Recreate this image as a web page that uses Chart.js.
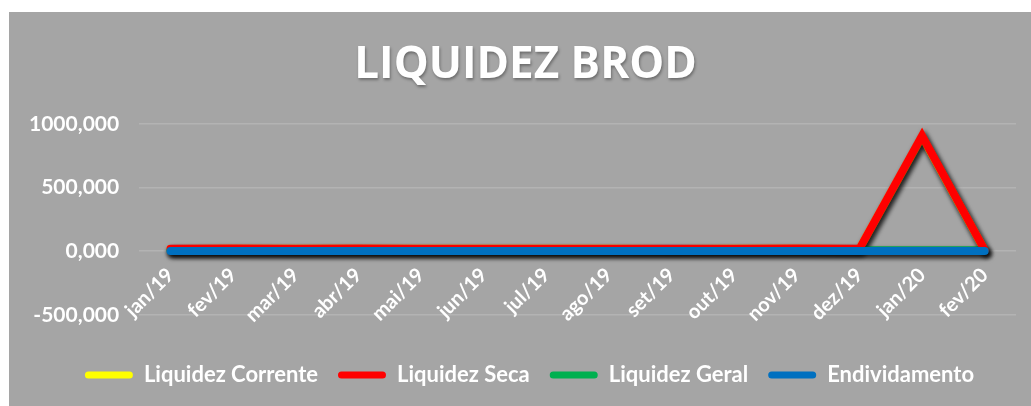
<!DOCTYPE html>
<html>
<head>
<meta charset="utf-8">
<script src="https://cdn.jsdelivr.net/npm/chart.js@4.4.1/dist/chart.umd.min.js"></script>
<style>
  html, body { margin: 0; padding: 0; background: #ffffff; }
  #box {
    position: absolute; left: 9px; top: 12px;
    width: 1022px; height: 394px;
    background: #a5a5a5;
  }
</style>
</head>
<body>
<div id="box"><canvas id="myChart" width="1022" height="394"></canvas></div>
<script>
// meses do grafico
var labels = ['jan/19', 'fev/19', 'mar/19', 'abr/19', 'mai/19', 'jun/19', 'jul/19',
  'ago/19', 'set/19', 'out/19', 'nov/19', 'dez/19', 'jan/20', 'fev/20'];

var liquidezCorrente = [17, 19, 18, 19, 18, 18, 18, 18, 17, 18, 19, 17, 900, 7];
var liquidezSeca     = [18, 20, 19, 20, 19, 19, 19, 19, 18, 19, 20, 18, 905, 8];
var liquidezGeral    = [6, 6, 6, 6, 6, 6, 6, 6, 6, 6, 6, 6, 6, 6];
var endividamento    = [0.5, 0.5, 0.5, 0.5, 0.5, 0.5, 0.5, 0.5, 0.5, 0.5, 0.5, 0.5, 0.5, 0.5];

var yTicks = [-500, 0, 500, 1000];

var fontBase = 'Lato';

// sombra nas linhas
var lineShadow = {
  id: 'lineShadow',
  beforeDatasetsDraw: function(chart) {
    var ctx = chart.ctx;
    ctx.save();
    ctx.shadowColor = 'rgba(0,0,0,0.6)';
    ctx.shadowBlur = 5;
    ctx.shadowOffsetX = 2;
    ctx.shadowOffsetY = 3;
  },
  afterDatasetsDraw: function(chart) {
    chart.ctx.restore();
  }
};

// titulo e legenda um pouco mais a direita (como no excel) + sombra no titulo
var shiftBoxes = {
  id: 'shiftBoxes',
  afterLayout: function(chart) {
    var t = chart.titleBlock;
    if (t) {
      t.left += 13; t.right += 13;
      if (!t._sombra) {
        var orig = t.draw;
        t.draw = function() {
          var ctx = chart.ctx;
          ctx.save();
          ctx.shadowColor = 'rgba(0,0,0,0.35)';
          ctx.shadowBlur = 3;
          ctx.shadowOffsetX = 1;
          ctx.shadowOffsetY = 2;
          orig.apply(this, arguments);
          ctx.restore();
        };
        t._sombra = true;
      }
    }
    if (chart.legend) { chart.legend.left += 17; chart.legend.right += 17; }
  }
};

function serie(label, data, color, order) {
  return {
    label: label,
    data: data,
    borderColor: color,
    backgroundColor: color,
    borderWidth: 8,
    borderCapStyle: 'round',
    pointRadius: 0,
    fill: false,
    tension: 0,
    order: order
  };
}

var config = {
  type: 'line',
  data: {
    labels: labels,
    datasets: [
      serie('Liquidez Corrente', liquidezCorrente, '#ffff00', 3),
      serie('Liquidez Seca', liquidezSeca, '#ff0000', 1),
      serie('Liquidez Geral', liquidezGeral, '#00b050', 2),
      serie('Endividamento', endividamento, '#0070c0', 0)
    ]
  },
  options: {
    responsive: false,
    animation: false,
    layout: { padding: { top: 27, right: 15, bottom: 10, left: 0 } },
    plugins: {
      title: {
        display: true,
        text: 'LIQUIDEZ BROD',
        color: '#ffffff',
        font: { family: 'Open Sans', size: 44, weight: 'bold' },
        padding: { top: 0, bottom: 32 }
      },
      legend: {
        position: 'bottom',
        title: { display: true, text: ' ', font: { size: 1 }, padding: { top: 7, bottom: 21 } },
        labels: {
          color: '#ffffff',
          font: { family: fontBase, size: 22, weight: 'bold' },
          boxWidth: 48,
          boxHeight: 7,
          useBorderRadius: true,
          borderRadius: 3.5,
          padding: 20,
          generateLabels: function(chart) {
            return chart.data.datasets.map(function(ds, i) {
              return {
                text: ds.label,
                fillStyle: ds.borderColor,
                strokeStyle: ds.borderColor,
                lineWidth: 0,
                borderRadius: 3.5,
                fontColor: '#ffffff',
                datasetIndex: i
              };
            });
          }
        }
      },
      tooltip: { enabled: false }
    },
    scales: {
      x: {
        position: { y: 0 },
        offset: true,
        grid: { display: false },
        border: { display: false },
        afterFit: function(s) { s.paddingLeft = 0; s.paddingRight = 0; },
        ticks: {
          color: '#ffffff',
          font: { family: fontBase, size: 20, weight: 'bold' },
          minRotation: 45,
          maxRotation: 45,
          padding: 4
        }
      },
      y: {
        min: -500,
        max: 1000,
        afterBuildTicks: function(axis) {
          axis.ticks = yTicks.map(function(v) { return { value: v }; });
        },
        grid: { color: '#b3b3b3', lineWidth: 1.5, drawTicks: false },
        border: { display: false },
        ticks: {
          color: '#ffffff',
          font: { family: fontBase, size: 21, weight: 'bold' },
          padding: 20,
          callback: function(v) { return v.toFixed(3).replace('.', ','); }
        }
      }
    }
  },
  plugins: [lineShadow, shiftBoxes]
};

var myChart = new Chart(document.getElementById('myChart'), config);
</script>
</body>
</html>
